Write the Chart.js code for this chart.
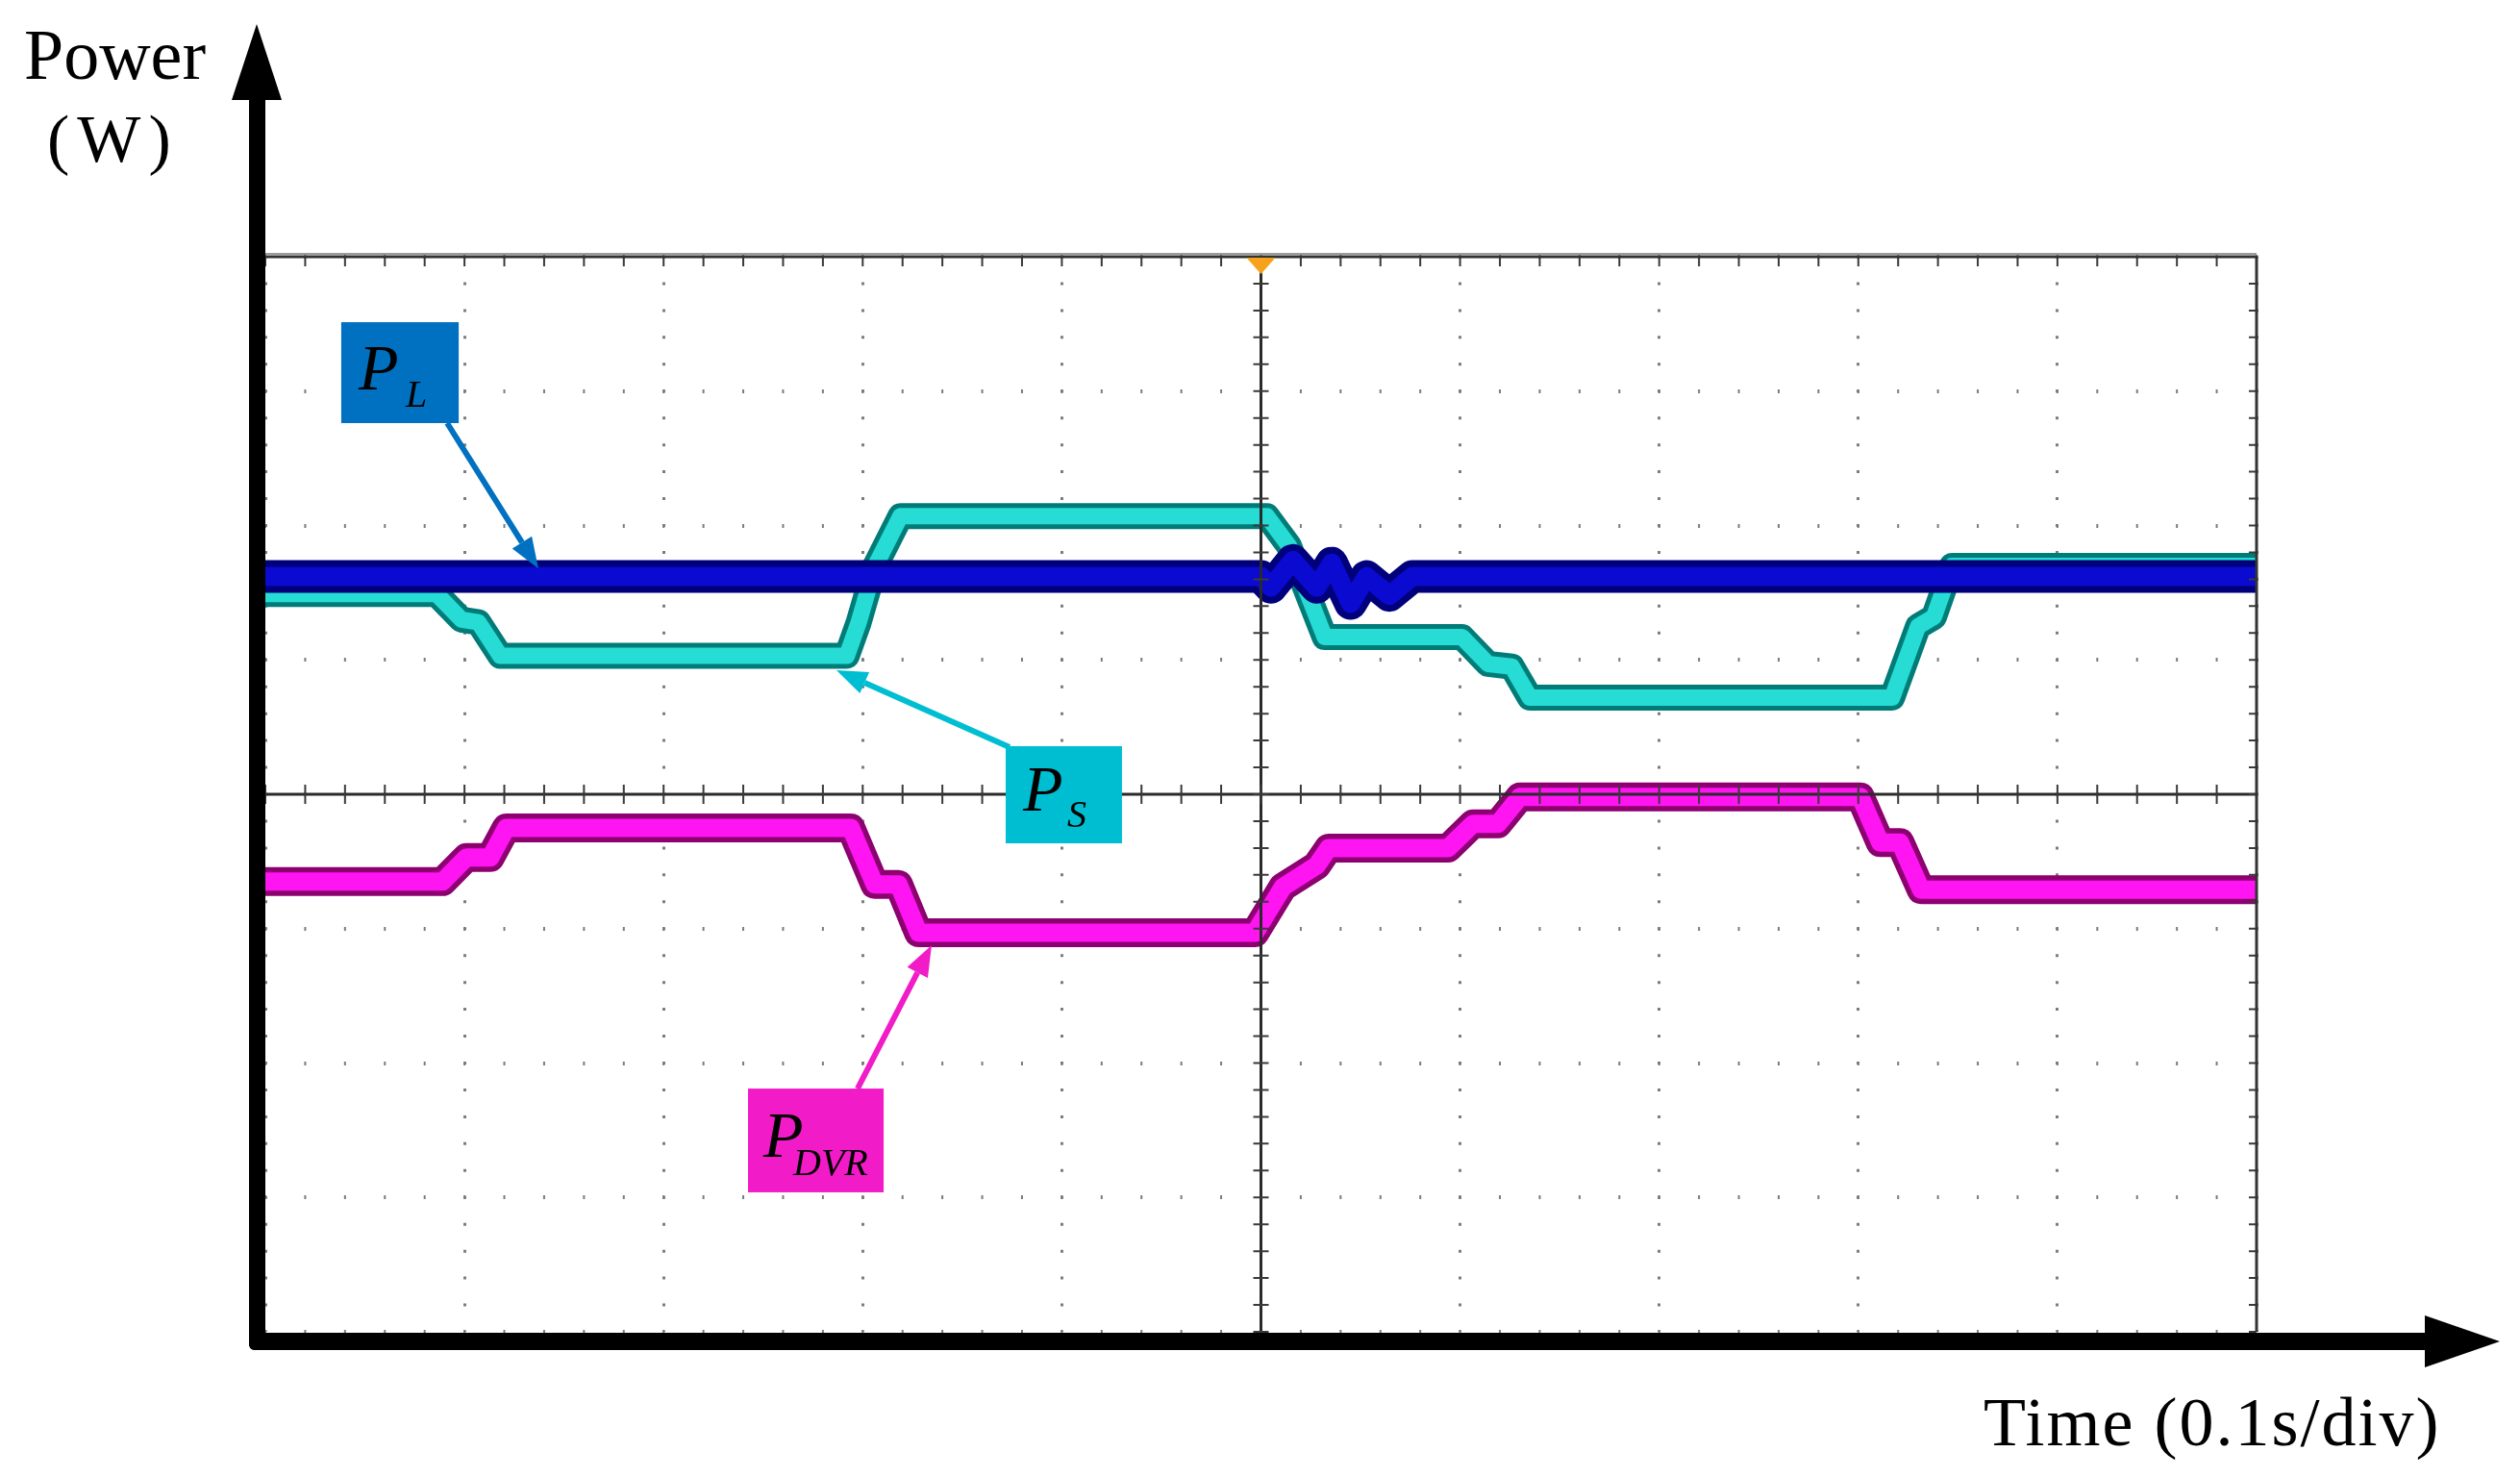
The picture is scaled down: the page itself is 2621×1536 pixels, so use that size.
<!DOCTYPE html>
<html>
<head>
<meta charset="utf-8">
<script src="https://cdn.jsdelivr.net/npm/chart.js@4.4.1/dist/chart.umd.min.js"></script>
<style>
  html, body { margin: 0; padding: 0; background: #ffffff; }
  #wrap { width: 2621px; height: 1536px; position: relative; }
</style>
</head>
<body>
<div id="wrap"><canvas id="chart"></canvas></div>
<script>
"use strict";

// Time in seconds (0.1 s/div), power in screen divisions (centre line = 0)
const plTime  = [0, 0.500, 0.505, 0.516, 0.528, 0.5355, 0.545, 0.553, 0.5645, 0.576, 1.0];
const plPower = [1.62, 1.62, 1.54, 1.74, 1.54, 1.72, 1.42, 1.62, 1.48, 1.62, 1.62];

const psTime  = [0, 0.086, 0.0985, 0.107, 0.118, 0.292, 0.298, 0.306, 0.319, 0.503, 0.514, 0.532,
                 0.601, 0.614, 0.626, 0.635, 0.817, 0.830, 0.838, 0.847, 1.0];
const psPower = [1.49, 1.49, 1.30, 1.28, 1.03, 1.03, 1.28, 1.69, 2.07, 2.07, 1.85, 1.17,
                 1.17, 0.97, 0.95, 0.72, 0.72, 1.25, 1.32, 1.70, 1.70];

const dvrTime  = [0, 0.089, 0.101, 0.113, 0.121, 0.294, 0.306, 0.318, 0.328, 0.497, 0.511,
                  0.528, 0.534, 0.594, 0.6065, 0.619, 0.630, 0.801, 0.811, 0.821, 0.8315, 1.0];
const dvrPower = [-0.65, -0.65, -0.47, -0.47, -0.25, -0.25, -0.67, -0.67, -1.03, -1.03, -0.69,
                  -0.53, -0.40, -0.40, -0.22, -0.22, -0.02, -0.02, -0.36, -0.36, -0.71, -0.71];

// Label boxes: [t0, t1, v0, v1] and arrow [tFrom, vFrom, tTo, vTo]
const labels = [
    { main: "P", sub: "L",   fill: "#0070C0", box: [0.0381, 0.0971, 3.513, 2.762], arrow: [0.0913, 2.762, 0.1371, 1.680], px: 18, py: 70, sx: 67, sy: 88 },
    { main: "P", sub: "S",   fill: "#00BED2", box: [0.3718, 0.4302, 0.358, -0.365], arrow: [0.3737, 0.351, 0.2868, 0.923], px: 18, py: 67, sx: 64, sy: 84 },
    { main: "P", sub: "DVR", fill: "#F21BC8", box: [0.2424, 0.3105, -2.190, -2.962], arrow: [0.2974, -2.190, 0.3346, -1.123], px: 16, py: 71, sx: 47, sy: 90 }
];

const toXY = (ts, vs) => ts.map((t, i) => ({ x: t, y: vs[i] }));

function trace(points, color, width) {
    return {
        data: points,
        borderColor: color,
        borderWidth: width,
        pointRadius: 0,
        tension: 0,
        borderJoinStyle: "round",
        clip: 0
    };
}

const data = {
    datasets: [
        trace(toXY(plTime, plPower), "#0A0AD0", 20),
        trace(toXY(plTime, plPower), "#00007A", 34),
        trace(toXY(psTime, psPower), "#26DCD4", 17),
        trace(toXY(psTime, psPower), "#007C78", 27),
        trace(toXY(dvrTime, dvrPower), "#FF14F2", 19),
        trace(toXY(dvrTime, dvrPower), "#8C0070", 30)
    ]
};

function drawArrow(ctx, x1, y1, x2, y2, color, width, headLen, headW) {
    const ang = Math.atan2(y2 - y1, x2 - x1);
    const bx = x2 - Math.cos(ang) * headLen;
    const by = y2 - Math.sin(ang) * headLen;
    ctx.save();
    ctx.strokeStyle = color;
    ctx.fillStyle = color;
    ctx.lineWidth = width;
    ctx.beginPath();
    ctx.moveTo(x1, y1);
    ctx.lineTo(bx, by);
    ctx.stroke();
    ctx.beginPath();
    ctx.moveTo(x2, y2);
    ctx.lineTo(bx + Math.sin(ang) * headW / 2, by - Math.cos(ang) * headW / 2);
    ctx.lineTo(bx - Math.sin(ang) * headW / 2, by + Math.cos(ang) * headW / 2);
    ctx.closePath();
    ctx.fill();
    ctx.restore();
}

// Scope frame: centre cross, ticks, borders, trigger marker
const scopeFrame = {
    id: "scopeFrame",
    afterDatasetsDraw(chart) {
        const { ctx, chartArea: a, scales: { x, y } } = chart;
        const xc = x.getPixelForValue(0.5);
        const yc = y.getPixelForValue(0);
        ctx.save();
        ctx.strokeStyle = "#2a2a2a";
        ctx.lineWidth = 3;
        ctx.beginPath();
        ctx.moveTo(a.left, yc); ctx.lineTo(a.right, yc);
        ctx.moveTo(xc, a.top); ctx.lineTo(xc, a.bottom);
        ctx.stroke();

        ctx.lineWidth = 2;
        ctx.strokeStyle = "#3a3a3a";
        ctx.beginPath();
        for (let k = 0; k <= 50; k++) {
            const px = x.getPixelForValue(k * 0.02);
            ctx.moveTo(px, yc - 10); ctx.lineTo(px, yc + 10);
            ctx.moveTo(px, a.top); ctx.lineTo(px, a.top + 10);
        }
        for (let k = 0; k <= 40; k++) {
            const py = y.getPixelForValue(-4 + k * 0.2);
            ctx.moveTo(xc - 8, py); ctx.lineTo(xc + 8, py);
            ctx.moveTo(a.right - 8, py); ctx.lineTo(a.right, py);
        }
        ctx.stroke();

        // top and right border
        ctx.strokeStyle = "#9a9a9a";
        ctx.lineWidth = 2;
        ctx.beginPath();
        ctx.moveTo(a.left, a.top - 3); ctx.lineTo(a.right, a.top - 3);
        ctx.stroke();
        ctx.strokeStyle = "#333333";
        ctx.lineWidth = 3;
        ctx.beginPath();
        ctx.moveTo(a.left, a.top); ctx.lineTo(a.right, a.top); ctx.lineTo(a.right, a.bottom);
        ctx.stroke();

        // trigger marker
        ctx.fillStyle = "#F7A21B";
        ctx.beginPath();
        ctx.moveTo(xc - 15, a.top + 1);
        ctx.lineTo(xc + 15, a.top + 1);
        ctx.lineTo(xc, a.top + 18);
        ctx.closePath();
        ctx.fill();
        ctx.restore();
    },
    afterDraw(chart) {
        const { ctx, chartArea: a, scales: { x, y } } = chart;
        ctx.save();

        // black axes with arrows
        const ax = a.left - 9;
        const ay = a.bottom + 10;
        ctx.fillStyle = "#000000";
        ctx.beginPath();
        ctx.roundRect(ax - 8, 100, 17, ay + 9 - 100, [0, 0, 0, 6]);
        ctx.fill();
        ctx.beginPath();
        ctx.roundRect(ax - 8, ay - 9, 2524 - (ax - 8), 18, [0, 0, 0, 6]);
        ctx.fill();
        ctx.beginPath();
        ctx.moveTo(ax, 25); ctx.lineTo(ax + 26, 104); ctx.lineTo(ax - 26, 104);
        ctx.closePath();
        ctx.fill();
        ctx.beginPath();
        ctx.moveTo(2600, ay); ctx.lineTo(2522, ay - 27); ctx.lineTo(2522, ay + 27);
        ctx.closePath();
        ctx.fill();

        // axis texts
        ctx.font = '74px "Liberation Serif"';
        ctx.textBaseline = "alphabetic";
        ctx.fillText("Power", 25, 82);
        ctx.font = '70px "Liberation Serif"';
        ctx.letterSpacing = "8px";
        ctx.fillText("(W)", 49, 168);
        ctx.font = '72px "Liberation Serif"';
        ctx.letterSpacing = "2px";
        ctx.fillText("Time (0.1s/div)", 2063, 1503);
        ctx.letterSpacing = "0px";

        // trace labels
        labels.forEach(l => {
            const [f1, g1, f2, g2] = l.arrow;
            drawArrow(ctx, x.getPixelForValue(f1), y.getPixelForValue(g1),
                      x.getPixelForValue(f2), y.getPixelForValue(g2), l.fill, 6, 32, 24);
            const left = x.getPixelForValue(l.box[0]);
            const right = x.getPixelForValue(l.box[1]);
            const top = y.getPixelForValue(l.box[2]);
            const bottom = y.getPixelForValue(l.box[3]);
            ctx.fillStyle = l.fill;
            ctx.fillRect(left, top, right - left, bottom - top);
            ctx.fillStyle = "#000000";
            ctx.font = 'italic 68px "Liberation Serif"';
            ctx.fillText(l.main, left + l.px, top + l.py);
            ctx.font = 'italic 40px "Liberation Serif"';
            ctx.fillText(l.sub, left + l.sx, top + l.sy);
        });
        ctx.restore();
    }
};

const config = {
    type: "line",
    data: data,
    options: {
        responsive: true,
        maintainAspectRatio: false,
        devicePixelRatio: 1,
        animation: false,
        layout: {
            padding: { left: 276, top: 267, right: 274, bottom: 151 }
        },
        plugins: {
            legend: { display: false },
            tooltip: { enabled: false }
        },
        scales: {
            x: {
                type: "linear",
                min: 0,
                max: 1,
                ticks: { display: false, stepSize: 0.1 },
                grid: { color: "#7c7c7c", lineWidth: 3, drawTicks: false },
                border: { display: false, dash: [3, 24.95], dashOffset: 1.5 },
                afterFit: (scale) => { scale.height = 0; }
            },
            y: {
                type: "linear",
                min: -4,
                max: 4,
                ticks: { display: false, stepSize: 1 },
                grid: { color: "#7c7c7c", lineWidth: 4, drawTicks: false },
                border: { display: false, dash: [2, 39.42], dashOffset: 1 },
                afterFit: (scale) => { scale.width = 0; }
            }
        }
    },
    plugins: [scopeFrame]
};

const chart = new Chart(document.getElementById("chart").getContext("2d"), config);
</script>
</body>
</html>
